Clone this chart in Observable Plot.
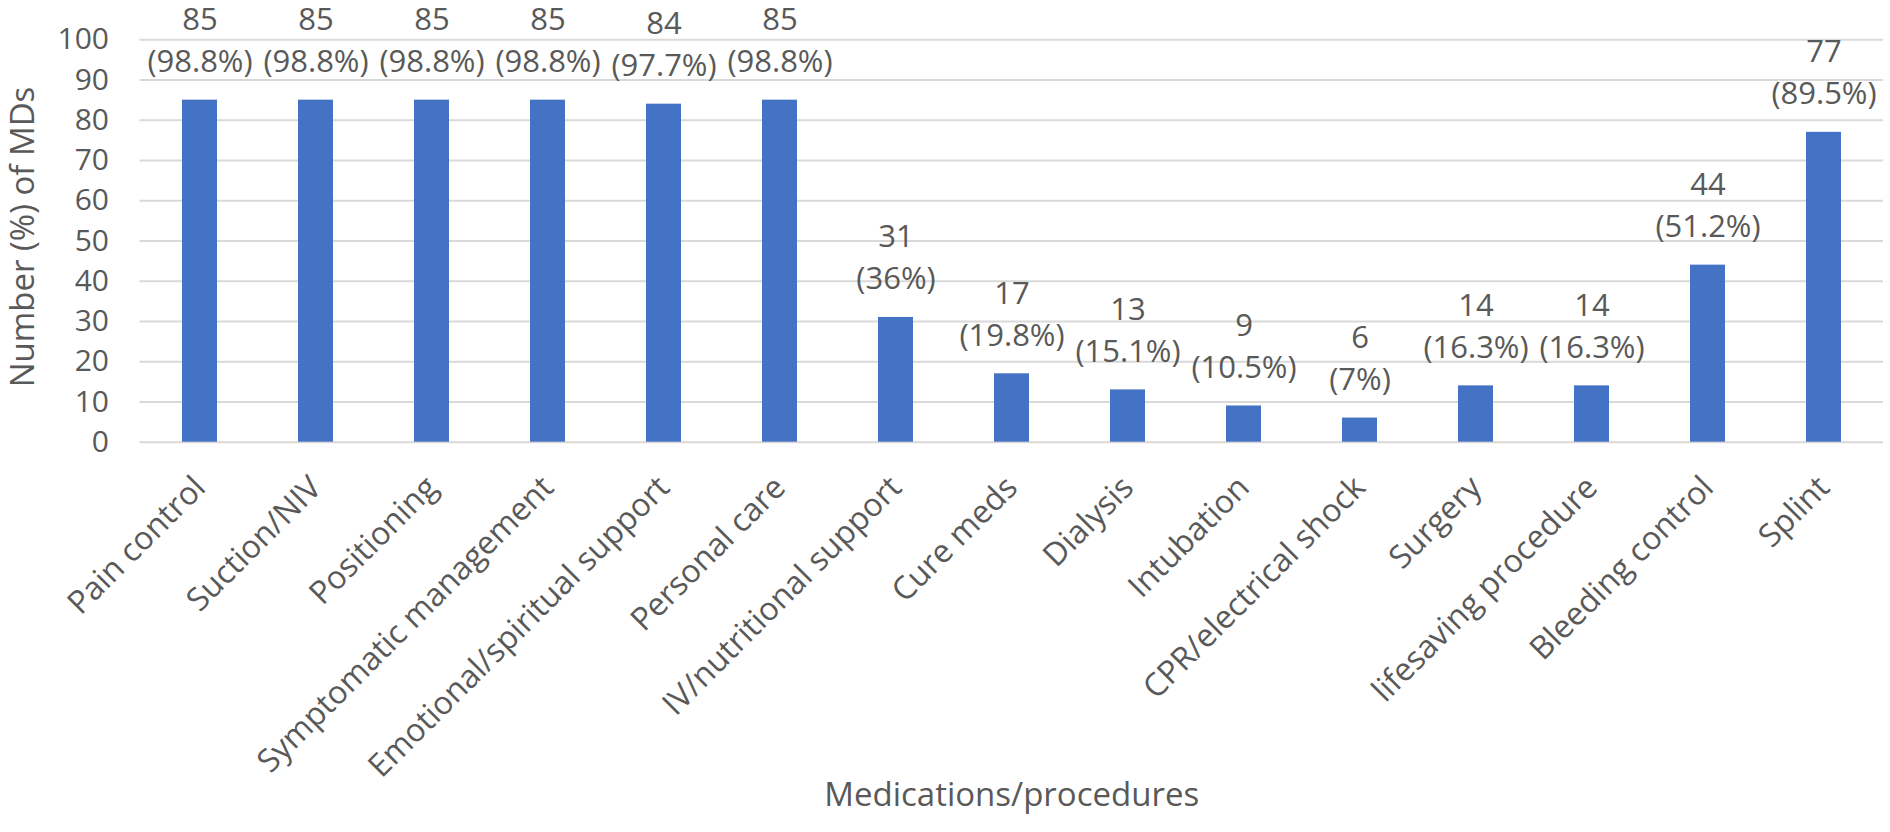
<!DOCTYPE html>
<html>
<head>
<meta charset="utf-8">
<script src="https://cdn.jsdelivr.net/npm/d3@7"></script>
<script src="https://cdn.jsdelivr.net/npm/@observablehq/plot@0.6"></script>
<style>
  html, body { margin: 0; padding: 0; background: #ffffff; }
  #chart svg { display: block; }
</style>
</head>
<body>
<div id="chart"></div>
<script>
const categories = [
  "Pain control", "Suction/NIV", "Positioning", "Symptomatic management",
  "Emotional/spiritual support", "Personal care", "IV/nutritional support",
  "Cure meds", "Dialysis", "Intubation", "CPR/electrical shock", "Surgery",
  "lifesaving procedure", "Bleeding control", "Splint"
];
const counts = [85, 85, 85, 85, 84, 85, 31, 17, 13, 9, 6, 14, 14, 44, 77];
const percents = ["98.8", "98.8", "98.8", "98.8", "97.7", "98.8", "36", "19.8", "15.1", "10.5", "7", "16.3", "16.3", "51.2", "89.5"];
const yTicks = [0, 10, 20, 30, 40, 50, 60, 70, 80, 90, 100];
const xTitle = "Medications/procedures";
const yTitle = "Number (%) of MDs";

const data = categories.map((name, i) => ({name, count: counts[i], pct: percents[i]}));

const textColor = "#595959";

const chart = Plot.plot({
  width: 1890,
  height: 832,
  marginLeft: 139.5,
  marginRight: 7,
  marginTop: 39.3,
  marginBottom: 390.3,
  style: {fontFamily: "'Open Sans', sans-serif", color: textColor, background: "#ffffff", overflow: "visible"},
  x: {domain: categories, paddingInner: 0.7, paddingOuter: 0.35, label: null},
  y: {domain: [0, 100], ticks: yTicks, label: null},
  marks: [
    Plot.ruleY(yTicks, {stroke: "#d9d9d9", strokeWidth: 2}),
    Plot.barY(data, {x: "name", y: "count", fill: "#4472C4"}),
    Plot.axisY({ticks: yTicks, tickSize: 0, tickPadding: 31, fontSize: 30, label: null, fill: textColor}),
    Plot.axisX({tickSize: 0, tickPadding: 40, tickRotate: -45, fontSize: 32, label: null, fill: textColor}),
    Plot.text(data, {x: "name", y: "count", text: d => `(${d.pct}%)`, dy: -38, fontSize: 31, fill: textColor}),
    Plot.text(data, {x: "name", y: "count", text: d => `${d.count}`, dy: -80, fontSize: 31, fill: textColor}),
    Plot.text([xTitle], {frameAnchor: "bottom", dy: 364, fontSize: 33, fill: textColor}),
    Plot.text([yTitle], {frameAnchor: "left", textAnchor: "middle", rotate: -90, dx: -117, dy: -4, fontSize: 33, fill: textColor})
  ]
});

document.getElementById("chart").appendChild(chart);
</script>
</body>
</html>
